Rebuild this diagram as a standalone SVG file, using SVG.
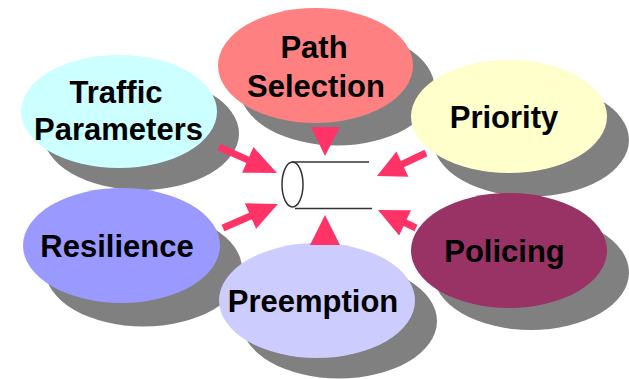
<svg xmlns="http://www.w3.org/2000/svg" width="629" height="379" viewBox="0 0 629 379">
  <style>
    .shadow { fill: #808080; }
    .lbl { font-family: "Liberation Sans", Arial, sans-serif; font-weight: bold; font-size: 31px; fill: #000; text-anchor: middle; }
    .arrow { fill: #FF3366; }
    .cyl { fill: none; stroke: #333; stroke-width: 1.5; }
  </style>
  <rect width="629" height="379" fill="#fff"/>

  <g id="path-selection">
    <ellipse class="shadow" cx="337" cy="88" rx="97.5" ry="57.5"/>
    <ellipse cx="315.5" cy="65.5" rx="97.5" ry="57.5" fill="#FF8080"/>
    <text class="lbl" x="314" y="58">Path</text>
    <text class="lbl" x="316" y="97">Selection</text>
  </g>

  <g id="traffic-parameters">
    <ellipse class="shadow" cx="141" cy="133.5" rx="98" ry="56.5"/>
    <ellipse cx="119" cy="111.5" rx="98" ry="56.5" fill="#CCFFFF"/>
    <text class="lbl" x="116" y="103">Traffic</text>
    <text class="lbl" x="118.5" y="140">Parameters</text>
  </g>

  <g id="priority">
    <ellipse class="shadow" cx="531" cy="140" rx="98" ry="56.5"/>
    <ellipse cx="509" cy="116.5" rx="98" ry="56.5" fill="#FFFFCC"/>
    <text class="lbl" x="504" y="128">Priority</text>
  </g>

  <g id="resilience">
    <ellipse class="shadow" cx="143.5" cy="269" rx="98.5" ry="57.5"/>
    <ellipse cx="121.5" cy="245.5" rx="98.5" ry="57.5" fill="#9999FF"/>
    <text class="lbl" x="117" y="257">Resilience</text>
  </g>

  <g id="policing">
    <ellipse class="shadow" cx="531" cy="272.5" rx="98" ry="57.5"/>
    <ellipse cx="509" cy="250.5" rx="98" ry="57.5" fill="#993366"/>
    <text class="lbl" x="504.5" y="262">Policing</text>
  </g>

  <g id="preemption">
    <ellipse class="shadow" cx="339" cy="321" rx="98" ry="57.5"/>
    <ellipse cx="317" cy="300.5" rx="98" ry="57.5" fill="#CCCCFF"/>
    <text class="lbl" x="313" y="312">Preemption</text>
  </g>

  <g id="tunnel">
    <ellipse class="cyl" cx="292.5" cy="184.5" rx="10.5" ry="22.5" fill="#fff"/>
    <line class="cyl" x1="292" y1="162" x2="369" y2="162"/>
    <line class="cyl" x1="295" y1="208.5" x2="372" y2="208.5"/>
  </g>

  <g id="connectors">
    <polygon class="arrow" points="311,127 340,127 325,156"/>
    <polygon class="arrow" points="325,215 340,245 310,245"/>
    <polygon class="arrow" points="277,173 242.1,172.7 246.4,163.1 217.6,150.2 220.4,143.8 249.2,156.7 253.5,147.1"/>
    <polygon class="arrow" points="278,204 256.1,228.8 251.9,219.2 224.4,231.2 221.6,224.8 249.1,212.8 244.9,203.2"/>
    <polygon class="arrow" points="377,176 396.5,151.4 400.9,160.9 424.5,149.8 427.5,156.2 403.9,167.3 408.4,176.8"/>
    <polygon class="arrow" points="378,210 411.1,210.2 406.6,219.6 417.5,224.8 414.5,231.2 403.6,226 399.1,235.5"/>
  </g>
</svg>
